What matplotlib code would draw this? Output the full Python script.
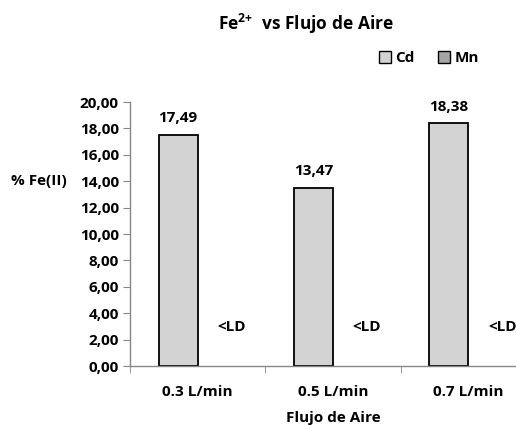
import numpy as np
import matplotlib.pyplot as plt
from matplotlib.patches import Patch

categories = ["0.3 L/min", "0.5 L/min", "0.7 L/min"]
cd_values = [17.49, 13.47, 18.38]
mn_values = [0.0, 0.0, 0.0]
mn_labels = ["<LD", "<LD", "<LD"]
y_ticks = [0, 2, 4, 6, 8, 10, 12, 14, 16, 18, 20]

plt.rcParams['font.family'] = ['Open Sans', 'DejaVu Sans']
plt.rcParams['font.weight'] = 'bold'
plt.rcParams['mathtext.fontset'] = 'custom'
plt.rcParams['mathtext.bf'] = 'Open Sans:bold'
plt.rcParams['mathtext.rm'] = 'Open Sans:bold'

cd_color = "#d3d3d3"
mn_color = "#a5a5a5"
axis_color = "#868686"
fs = 11

fig = plt.figure(figsize=(5.16, 4.25), dpi=100)
# axis runs past the right edge of the figure, like the original sheet
ax = fig.add_axes([130 / 516, 1 - 366 / 425, 406 / 516, 264 / 425])

x = np.arange(len(categories))
w = 0.289
cd_bars = ax.bar(x - w / 2, cd_values, w, color=cd_color, edgecolor="black", linewidth=1.3)
# values under the detection limit: no visible bar, no outline
mn_bars = ax.bar(x + w / 2, mn_values, w, color=mn_color, edgecolor="black",
                 linewidth=[1.3 if v > 0 else 0 for v in mn_values])

for bar, v in zip(cd_bars, cd_values):
    ax.annotate(f"{v:.2f}".replace(".", ","),
                (bar.get_x() + bar.get_width() / 2, v),
                xytext=(0, 7), textcoords="offset points",
                ha="center", va="bottom", fontsize=fs, fontweight="bold")

for xi, lab in zip(x, mn_labels):
    ax.text(xi + w / 2, 2.95, lab, ha="left", va="center", fontsize=fs, fontweight="bold")

ax.set_xlim(-0.5, len(categories) - 0.5)
ax.set_ylim(0, 20)
ax.set_yticks(y_ticks)
ax.set_yticklabels([f"{t:.2f}".replace(".", ",") for t in y_ticks], fontsize=fs)

ax.set_xticks(x)
ax.set_xticklabels(categories, fontsize=fs)
ax.set_xticks(np.arange(len(categories) + 1) - 0.5, minor=True)
ax.tick_params(axis="x", which="major", length=0, pad=14)
ax.tick_params(axis="x", which="minor", length=5, color=axis_color, direction="out")
ax.tick_params(axis="y", length=5, color=axis_color, direction="out", pad=3)

for side in ["top", "right"]:
    ax.spines[side].set_visible(False)
for side in ["left", "bottom"]:
    ax.spines[side].set_color(axis_color)
    ax.spines[side].set_linewidth(1.0)

ax.set_xlabel("Flujo de Aire", fontsize=fs, fontweight="bold", labelpad=8)
ax.set_ylabel("% Fe(II)", fontsize=fs, fontweight="bold", rotation=0, ha="right", va="center")
ax.yaxis.set_label_coords(-0.155, 0.70)

fig.text(306 / 516, 1 - 24 / 425, r"Fe$^{\mathbf{2{+}}}$  vs Flujo de Aire",
         ha="center", va="center", fontsize=12.5, fontweight="bold")

handles = [Patch(facecolor=cd_color, edgecolor="black", linewidth=1.0),
           Patch(facecolor=mn_color, edgecolor="black", linewidth=1.0)]
fig.legend(handles, ["Cd", "Mn"], loc="center", bbox_to_anchor=(429 / 516, 1 - 58 / 425),
           ncol=2, frameon=False, fontsize=fs, handlelength=0.8, handleheight=0.8,
           handletextpad=0.3, columnspacing=1.5)

fig.savefig("out.png", dpi=100)
